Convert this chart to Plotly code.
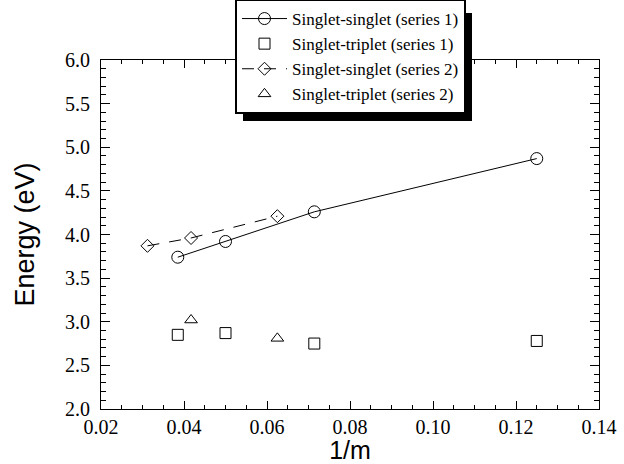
import plotly.graph_objects as go

# Data
x_ss1 = [0.0385, 0.0500, 0.0714, 0.1250]
y_ss1 = [3.74, 3.92, 4.26, 4.87]

x_st1 = [0.0385, 0.0500, 0.0714, 0.1250]
y_st1 = [2.85, 2.87, 2.75, 2.78]

x_ss2 = [0.0312, 0.0417, 0.0625]
y_ss2 = [3.87, 3.96, 4.21]

x_st2 = [0.0417, 0.0625]
y_st2 = [3.02, 2.81]

names = ["Singlet-singlet (series 1)", "Singlet-triplet (series 1)",
         "Singlet-singlet (series 2)", "Singlet-triplet (series 2)"]

serif = "Liberation Serif"
sans = "Liberation Sans"

W, H = 624, 464
ML, MR, MT, MB = 101, 25, 60, 55
PW, PH = W - ML - MR, H - MT - MB

def px(xp):
    return (xp - ML) / PW

def py(yp):
    return (H - MB - yp) / PH

fig = go.Figure()
fig.add_trace(go.Scatter(x=x_ss1, y=y_ss1, mode="lines+markers", name=names[0],
                         line=dict(color="black", width=1),
                         marker=dict(symbol="circle-open", size=12, color="black",
                                     line=dict(color="black", width=1))))
fig.add_trace(go.Scatter(x=x_st1, y=y_st1, mode="markers", name=names[1],
                         marker=dict(symbol="square-open", size=11, color="black",
                                     line=dict(color="black", width=1))))
fig.add_trace(go.Scatter(x=x_ss2, y=y_ss2, mode="lines+markers", name=names[2],
                         line=dict(color="black", width=1, dash="12px,10px"),
                         marker=dict(symbol="diamond-open", size=10, color="black",
                                     line=dict(color="black", width=1))))
fig.add_trace(go.Scatter(x=x_st2, y=y_st2, mode="markers", name=names[3],
                         marker=dict(symbol="triangle-up-open", size=11, color="black",
                                     line=dict(color="black", width=1))))

# Legend box (pixel estimates) and its drop shadow
LEG_L, LEG_T = 235, 5
LEG_W, LEG_H = 229, 108
SH = 8
fig.add_shape(type="rect", xref="paper", yref="paper",
              x0=px(LEG_L + SH), x1=px(LEG_L + LEG_W + SH),
              y0=py(LEG_T + LEG_H + SH), y1=py(LEG_T + SH),
              fillcolor="black", line=dict(width=0), layer="above")

def axis_common():
    return dict(showline=True, linecolor="black", linewidth=1, mirror="allticks",
                ticks="inside", tickcolor="black", showgrid=False, zeroline=False,
                automargin=False,
                tickfont=dict(family=serif, size=20, color="black"))

fig.update_layout(
    width=W, height=H,
    font=dict(family=serif, color="black"),
    margin=dict(l=ML, r=MR, t=MT, b=MB, autoexpand=False),
    paper_bgcolor="white", plot_bgcolor="white",
    showlegend=True,
    legend=dict(x=px(LEG_L), y=py(LEG_T - 6), xanchor="left", yanchor="top",
                bgcolor="white", bordercolor="black", borderwidth=2,
                font=dict(family=serif, size=17, color="black"),
                itemwidth=45, tracegroupgap=0),
    xaxis=dict(range=[0.02, 0.14], dtick=0.02, tick0=0.02, tickformat=".2f", ticklen=8,
               minor=dict(dtick=0.005, ticks="inside", ticklen=4, tickcolor="black"),
               title=dict(text="1/m", font=dict(family=sans, size=25, color="black"), standoff=6),
               **axis_common()),
    yaxis=dict(range=[2.0, 6.0], dtick=0.5, tick0=2.0, tickformat=".1f", ticklen=9,
               minor=dict(dtick=0.1, ticks="inside", ticklen=5, tickcolor="black"),
               title=dict(text="Energy (eV)", font=dict(family=sans, size=27, color="black"), standoff=22),
               ticklabelstandoff=6,
               **axis_common()),
)

fig.write_html("out.html")
